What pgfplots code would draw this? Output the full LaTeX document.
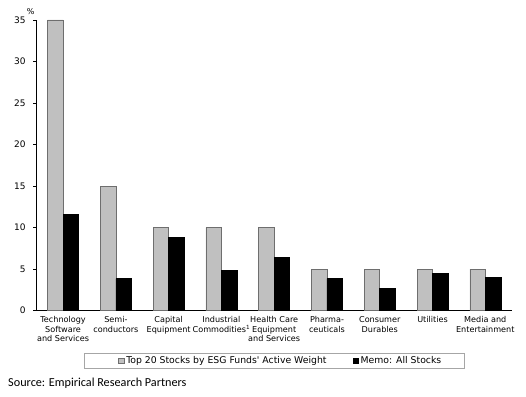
\documentclass[border=0pt]{standalone}
\usepackage{pgfplots}
\pgfplotsset{compat=1.18}
\usepackage{fontspec}
\setmainfont{DejaVu Sans}
\newfontfamily\srcfont{Carlito}
\definecolor{barg}{RGB}{192,192,192}
\definecolor{edgeg}{RGB}{110,110,110}
\begin{document}
\begin{tikzpicture}
\path[use as bounding box] (-36.7pt,-85.3pt) rectangle (489.3pt,310.7pt);
\begin{axis}[
  at={(0pt,0pt)}, anchor=south west,
  scale only axis,
  width=475pt, height=290.7pt,
  xmin=-0.5, xmax=8.5, ymin=0, ymax=35,
  axis x line*=bottom, axis y line*=left,
  axis line style={black, line width=0.8pt},
  ytick={0,5,...,35},
  ytick style={black, line width=0.6pt},
  tick align=outside,
  major tick length=3.5pt,
  xtick=data, xtick style={draw=none},
  xticklabels={{Technology\\Software\\and Services},{Semi-\\conductors},{Capital\\Equipment},{Industrial\\Commodities\textsuperscript{1}},{Health Care\\Equipment\\and Services},{Pharma-\\ceuticals},{Consumer\\Durables},{Utilities},{Media and\\Entertainment}},
  xticklabel style={align=center, font=\fontsize{8.1}{9.5}\selectfont, yshift=1pt},
  yticklabel style={font=\fontsize{9}{10}\selectfont, xshift=-4pt},
  /pgf/number format/assume math mode=true,
  ybar=0pt, bar width=15.5pt,
  legend style={at={(0.5,-0.1725)}, anchor=center, legend columns=2,
    draw=gray!70, line width=0.6pt, font=\fontsize{9.3}{10}\selectfont,
    inner ysep=1.2pt, inner xsep=21pt, /tikz/every even column/.append style={column sep=24pt}},
  clip=false,
]
\addplot[fill=barg, draw=edgeg, line width=0.6pt,
  legend image code/.code={\path (-13pt,0pt); \draw[fill=barg, draw=edgeg, line width=0.5pt] (0pt,-2.8pt) rectangle (5.6pt,2.8pt);}]
  coordinates {(0,35) (1,15) (2,10) (3,10) (4,10) (5,5) (6,5) (7,5) (8,5)};
\addplot[fill=black, draw=black, line width=0.6pt,
  legend image code/.code={\draw[fill=black, draw=black, line width=0.5pt] (0pt,-2.8pt) rectangle (5.6pt,2.8pt);}]
  coordinates {(0,11.6) (1,3.85) (2,8.8) (3,4.85) (4,6.4) (5,3.85) (6,2.7) (7,4.45) (8,4.05)};
\legend{Top 20 Stocks by ESG Funds\textquotesingle{} Active Weight, Memo: All Stocks}
\node[font=\fontsize{8}{9}\selectfont, anchor=south] at (axis cs:-0.5,35) [xshift=-6pt, yshift=1.5pt] {\%};
\end{axis}
\node[anchor=west, font=\srcfont\fontsize{12.2}{13}\selectfont] at (-32pt,-72.3pt) {Source: Empirical Research Partners};
\end{tikzpicture}
\end{document}
